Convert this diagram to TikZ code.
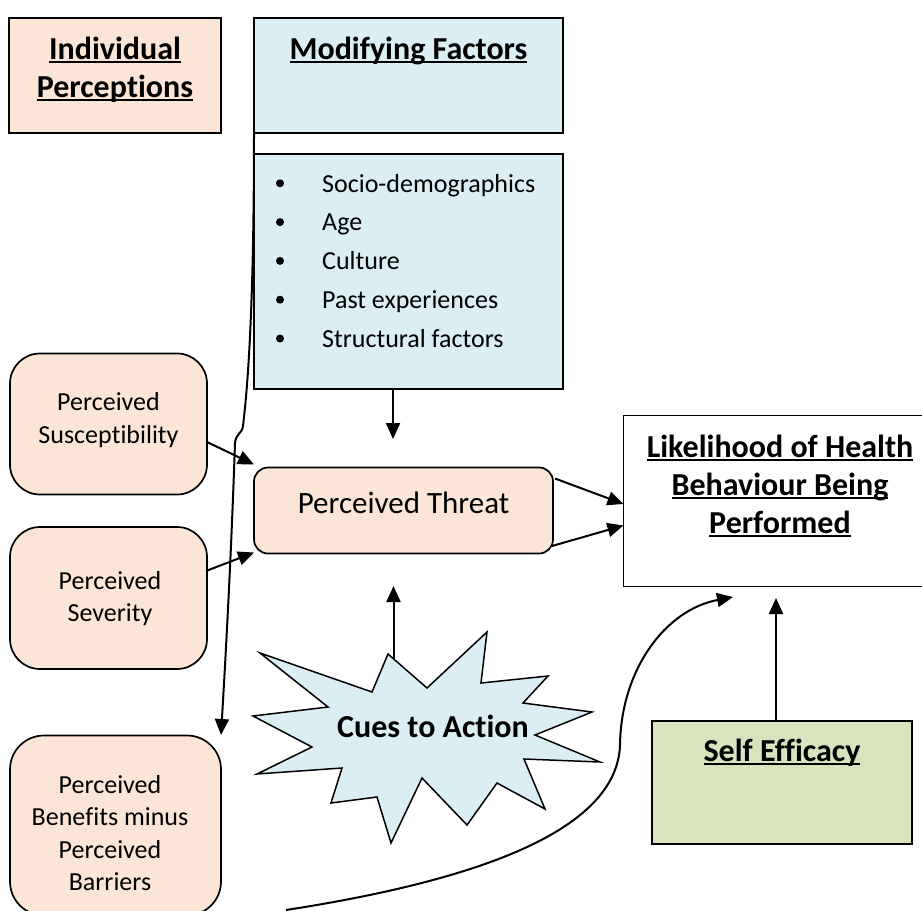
\documentclass[tikz,border=0pt]{standalone}
\usepackage{fontspec}
\setmainfont{Carlito}[Ligatures={NoCommon,NoRare},Contextuals={NoAlternate}]
\usetikzlibrary{arrows.meta,calc}
\definecolor{peach}{HTML}{FBE5D6}
\definecolor{lblue}{HTML}{DAEEF3}
\definecolor{lgreen}{HTML}{D7E4BD}
\newcommand\myul[1]{\setbox0\hbox{#1}\rlap{\rule[-3.5pt]{\wd0}{2pt}}\box0}
\begin{document}
\begin{tikzpicture}[x=1pt,y=-1pt,
  box/.style={draw=black,line width=1.7pt,inner sep=0pt,outer sep=0pt},
  rbox/.style={box,rounded corners=30pt},
  head/.style={font=\fontsize{32}{38}\selectfont\bfseries,align=center,inner sep=0pt},
  body/.style={font=\fontsize{26}{32.5}\selectfont,align=center,inner sep=0pt},
  conn/.style={line width=2pt,-{Triangle[length=16pt,width=14pt]}},
  bul/.style={circle,fill=black,inner sep=0pt,minimum size=8pt},
  starsty/.style={draw=black,fill=lblue,line width=1.5pt,line join=miter},
]
\useasboundingbox (0,0) rectangle (922,911);

% boxes
\node[box,fill=peach,minimum width=212pt,minimum height=115pt] (ip) at (115,75.5) {};
\node[head] (ipt) at (115,70) {\myul{Individual}\\\myul{Percep\kern0pt tions}};

\node[box,fill=lblue,minimum width=309pt,minimum height=115pt] (mf) at (408.5,75.5) {};
\node[head,anchor=base] (mft) at (408.5,59) {\myul{Modifying Factors}};

\node[box,fill=lblue,minimum width=309pt,minimum height=235pt] (mfl) at (408.5,271.5) {};
\foreach \i/\t in {0/Socio-demographics,1/Age,2/Culture,3/Past experiences,4/Structural factors}{
  \node[bul] (b\i) at (280,183.3+38.8*\i) {};
  \node[body,anchor=base west] (l\i) at (322,192+38.8*\i) {\t};
}

\node[rbox,fill=peach,minimum width=197pt,minimum height=141pt] (sus) at (108.5,424) {};
\node[body] (sust) at (108.5,420) {Perceived\\Suscep\kern0pt tibility};

\node[rbox,fill=peach,minimum width=197pt,minimum height=142pt] (sev) at (108.5,598) {};
\node[body] (sevt) at (110,598.5) {Perceived\\Severity};

\node[rbox,rounded corners=34pt,fill=peach,minimum width=211pt,minimum height=180pt] (ben) at (115.5,825.5) {};
\node[body] (bent) at (110,833) {Perceived\\Bene\kern0pt fits minus\\Perceived\\Barriers};

\node[box,rounded corners=14pt,fill=peach,minimum width=299pt,minimum height=86pt] (thr) at (403.5,510.5) {};
\node[inner sep=0pt,font=\fontsize{31}{37}\selectfont,anchor=base] (thrt) at (403.5,513) {Perceived Threat};

\node[box,fill=white,minimum width=320pt,minimum height=171pt,anchor=north west] (lik) at (623.5,415.5) {};
\node[head] (likt) at (780,486) {\myul{Likelihood of Health}\\\myul{Behaviour Being}\\\myul{Performed}};

\node[box,fill=lgreen,minimum width=260pt,minimum height=123pt] (se) at (782,782.5) {};
\node[head,anchor=base] (set) at (782,761) {\myul{Self Efficacy}};

% star
\draw[starsty] (388,654) -- (427,688) -- (487,632) -- (481,683) -- (548,676) -- (523,703)
  -- (592,712) -- (535,735) -- (600,762) -- (524,759) -- (545,809) -- (497,783)
  -- (467,825) -- (422,778) -- (391,843) -- (377,797) -- (331,803) -- (342,768)
  -- (257,774) -- (312,747) -- (253,716) -- (328,707) -- (260,653) -- (372,692) -- cycle;
\node[head,anchor=base] (cues) at (433,737) {Cues to Ac\kern0pt tion};

% connector ends
\coordinate (mfTip) at (393,439);
\coordinate (cuesTop) at (393.5,659);
\coordinate (cuesTip) at (393.5,586);
\coordinate (seTip) at (776,598);
\coordinate (benTip) at (221,735);
\coordinate (benStart) at (286,910);
\coordinate (effTip) at (733,597);

\draw[conn] (mfl.south -| mfTip) -- (mfTip);
\draw[conn] (cuesTop) -- (cuesTip);
\draw[conn] (se.north -| seTip) -- (seTip);
\draw[conn] ($(thr.north east)+(2,11)$) -- ($(lik.north west)+(0,88.5)$);
\draw[conn] ($(thr.south east)+(-1,-7.5)$) -- ($(lik.north west)+(0,110)$);
\draw[conn] ($(sus.north east)+(-1,88)$) -- ($(thr.north west)+(0,-3)$);
\draw[conn] ($(sev.north east)+(-1,44)$) -- ($(thr.south west)+(0,-1)$);
\draw[conn] (mf.south west) .. controls (254,330) and (246,400) .. (243,426)
  .. controls (242,434) and (236,433) .. (235,443)
  .. controls (231,560) and (226,650) .. (benTip);
\draw[conn] (benStart) .. controls (480,880) and (617,830) .. (620,745)
  .. controls (621,670) and (665,610) .. (effTip);
\end{tikzpicture}
\end{document}
